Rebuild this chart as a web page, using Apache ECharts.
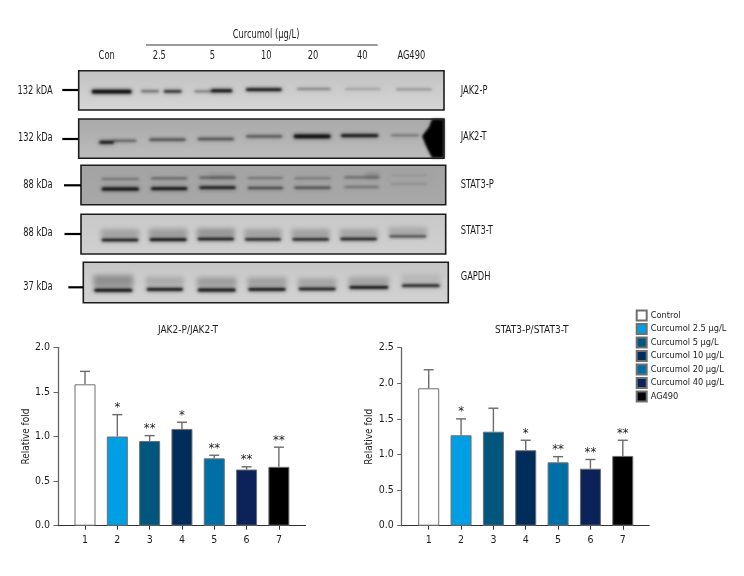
<!DOCTYPE html>
<html><head><meta charset="utf-8">
<style>html,body{margin:0;padding:0;background:#fff}#c{width:744px;height:576px}</style>
<script src="https://cdn.jsdelivr.net/npm/echarts@6/dist/echarts.min.js"></script>
</head><body><div id="c"></div>
<script>
const categories = [1, 2, 3, 4, 5, 6, 7];
const treatments = ['Control', 'Curcumol 2.5 μg/L', 'Curcumol 5 μg/L', 'Curcumol 10 μg/L', 'Curcumol 20 μg/L', 'Curcumol 40 μg/L', 'AG490'];
const jakValues = [1.585, 1.0, 0.95, 1.085, 0.755, 0.63, 0.66];
const jakUpper = [1.73, 1.245, 1.01, 1.16, 0.79, 0.66, 0.88];
const jakStars = ['', '*', '**', '*', '**', '**', '**'];
const statValues = [1.93, 1.27, 1.32, 1.06, 0.89, 0.80, 0.98];
const statUpper = [2.19, 1.50, 1.65, 1.20, 0.97, 0.93, 1.20];
const statStars = ['', '*', '', '*', '**', '**', '**'];
const laneLabels = ['Con', '2.5', '5', '10', '20', '40', 'AG490'];
const blotNames = ['JAK2-P', 'JAK2-T', 'STAT3-P', 'STAT3-T', 'GAPDH'];
const sizeLabels = ['132 kDA', '132 kDa', '88 kDa', '88 kDa', '37 kDa'];

const barColors = ['#ffffff', '#009fe3', '#00567c', '#002d5a', '#006fa6', '#0b2358', '#000000'];
const FONT = '"DejaVu Sans Condensed","DejaVu Sans",sans-serif';
const INK = '#1c1c1c';

/* ---------- western-blot picture, drawn as decoration ---------- */
const panels = [
  {x:78.7,y:70.7,w:365.3,h:39.3,top:'#c2c2c2',bot:'#d6d6d6'},
  {x:78.7,y:119,w:365.3,h:39.3,top:'#a9a9a9',bot:'#bcbcbc'},
  {x:81,y:165.3,w:364.7,h:39.4,top:'#a3a3a3',bot:'#a8a8a8'},
  {x:81,y:214.3,w:364.7,h:39.7,top:'#c8c8c8',bot:'#d0d0d0'},
  {x:83.3,y:262.3,w:365,h:40.4,top:'#c6c6c6',bot:'#d3d3d3'}
];
// band table: panel, x0, x1, y, thickness, darkness (reference zoom was 3x, hence the /3 below)
const bandRows = [
  [0,272,398,215,11,1],[0,420,480,214,6,.5],[0,488,548,214,8,.75],[0,580,640,214,5,.45],[0,630,700,212,9,1],[0,735,848,209,8,.95],
  [0,888,995,207,5,.45],[0,1032,1145,207,4,.25],[0,1185,1298,208,5,.3],
  [1,295,345,367,9,.9],[1,335,412,362,6,.5],[1,445,560,359,7,.6],[1,590,705,357,7,.55],[1,735,850,349,7,.55],[1,878,995,349,11,1],[1,1020,1138,347,8,.95],[1,1170,1260,346,4,.5],
  [2,302,420,57,5,.4],[2,450,565,55,5,.45],[2,595,710,53,5,.5],[2,740,852,54,4,.38],[2,880,995,55,4,.4],[2,1030,1140,52,5,.4],[2,1170,1285,46,3,.14],
  [2,302,420,87,9,1],[2,450,565,86,8,.95],[2,595,710,83,8,.85],[2,740,852,84,6,.65],[2,880,995,83,6,.6],[2,1030,1140,81,5,.4],[2,1170,1285,72,4,.16],
  [3,302,418,240,8,1],[3,446,563,239,8,1],[3,590,705,237,8,1],[3,732,846,238,7,.95],[3,874,990,238,7,.95],[3,1018,1134,237,7,.9],[3,1165,1282,229,5,.8],
  [4,280,400,391,9,1],[4,437,552,388,8,1],[4,590,710,390,9,1],[4,742,860,388,8,1],[4,893,1010,387,7,.95],[4,1045,1168,382,8,1],[4,1203,1322,377,7,1]
];
// smear table: panel, x0, x1, y0, y1, darkness
const smearRows = [
  [2,625,705,44,56,.15],[2,1095,1140,38,54,.18],
  [3,302,418,208,232,.22],[3,446,563,206,232,.24],[3,590,705,205,230,.28],[3,732,846,207,231,.22],[3,874,990,207,231,.22],[3,1018,1134,207,230,.2],[3,1165,1282,202,224,.18],
  [4,280,400,345,382,.3],[4,437,552,350,378,.17],[4,590,710,352,380,.24],[4,742,860,352,380,.22],[4,893,1010,355,380,.2],[4,1045,1168,350,376,.2],[4,1203,1322,342,368,.1]
];

const FAR = 1500;  // shapes sit off-canvas; only their blurred shadow lands on the membrane
function softRect(x, y, w, h, alpha, blur, z) {
  return {type:'rect',silent:true,z:z,shape:{x:x-FAR,y:y,width:w,height:h,r:Math.min(h/2,2)},
    style:{fill:'#000',shadowColor:'rgba(5,5,5,'+alpha+')',shadowBlur:blur,shadowOffsetX:FAR}};
}
const graphics = [];
panels.forEach(p => {
  graphics.push({type:'rect',silent:true,z:1,shape:{x:p.x,y:p.y,width:p.w,height:p.h},
    style:{fill:{type:'linear',x:0,y:0,x2:0,y2:1,colorStops:[{offset:0,color:p.top},{offset:1,color:p.bot}]}}});
});
smearRows.forEach(r => {
  graphics.push(softRect(r[1]/3,r[3]/3+160,(r[2]-r[1])/3,(r[4]-r[3])/3,r[5],5,2));
});
bandRows.forEach(r => {
  const off = r[0] < 2 ? 20 : 160, h = r[4]/3, a = r[5];
  graphics.push(softRect(r[1]/3,off+r[3]/3-h/2-.5,(r[2]-r[1])/3,h+1,a*.35,5,3));
  graphics.push(softRect(r[1]/3+1,off+r[3]/3-h/2,(r[2]-r[1])/3-2,h,Math.min(1,a*1.05),2.6,3));
});
// dark corner of the JAK2-T membrane
graphics.push({type:'polygon',silent:true,z:4,shape:{points:[[444-FAR,119],[432-FAR,119],[429-FAR,127],[422-FAR,136],[426-FAR,146],[432-FAR,158],[444-FAR,158]]},
  style:{fill:'#000',shadowColor:'rgba(0,0,0,1)',shadowBlur:2.5,shadowOffsetX:FAR}});
panels.forEach(p => {
  graphics.push({type:'rect',silent:true,z:5,shape:{x:p.x,y:p.y,width:p.w,height:p.h},
    style:{fill:'none',stroke:'#1c1c1c',lineWidth:1.6}});
});
// marker dashes beside the membranes
[[62.3,78,90],[62.3,78,139],[64,81,185.3],[64.5,81,234],[68.3,83,287.3]].forEach(m => {
  graphics.push({type:'line',silent:true,z:5,shape:{x1:m[0],y1:m[2],x2:m[1],y2:m[2]},style:{stroke:'#000',lineWidth:2.2}});
});
graphics.push({type:'line',silent:true,z:5,shape:{x1:146,y1:45,x2:377.7,y2:45},style:{stroke:'#222',lineWidth:.9}});
function txt(s, x, y, align) {
  graphics.push({type:'text',silent:true,z:6,x:x,y:y,scaleX:.77,style:{text:s,fill:INK,font:'12px '+FONT,textAlign:align||'center',textVerticalAlign:'middle'}});
}
txt('Curcumol (μg/L)',266,35);
[106.7,159.3,212.3,266.3,313,362.3,411.3].forEach((x,i)=>txt(laneLabels[i],x,56));
[91,138,185,232.7,286.7].forEach((y,i)=>txt(sizeLabels[i],52.7,y,'right'));
[91,137,185,231,277].forEach((y,i)=>txt(blotNames[i],460.7,y,'left'));

/* ---------- bar charts ---------- */
const charts = [
  {left:58,width:247.7,top:347.3,height:178.4,xMin:0.164,xMax:7.83,yMax:2,vals:jakValues,upper:jakUpper,stars:jakStars},
  {left:401.7,width:247.6,top:347.7,height:178,xMin:0.165,xMax:7.82,yMax:2.5,vals:statValues,upper:statUpper,stars:statStars}
];
const axisGrey = '#666';
const series = [];
charts.forEach((c,ci) => {
  treatments.forEach((name,i) => {
    series.push({type:'bar',name,xAxisIndex:ci,yAxisIndex:ci,barWidth:21,barGap:'-100%',animation:false,silent:true,
      data:[[categories[i],c.vals[i]]],
      itemStyle:{color:barColors[i],borderColor:'#6f6f6f',borderWidth:1}});
  });
  series.push({type:'custom',xAxisIndex:ci,yAxisIndex:ci,animation:false,silent:true,clip:false,z:4,
    data:categories.map((x,i)=>[x,c.vals[i],c.upper[i],i]),
    encode:{x:0,y:2},
    renderItem(params,api){
      const x=api.value(0), low=api.coord([x,api.value(1)]), up=api.coord([x,api.value(2)]);
      const st=c.stars[api.value(3)];
      const line={stroke:'#6a6a6a',lineWidth:1.4};
      const kids=[
        {type:'line',shape:{x1:low[0],y1:low[1],x2:up[0],y2:up[1]},style:line},
        {type:'line',shape:{x1:up[0]-5,y1:up[1],x2:up[0]+5,y2:up[1]},style:line}];
      if(st) kids.push({type:'text',x:up[0],y:up[1]-7,style:{text:st,fill:INK,font:'13px '+FONT,textAlign:'center',textVerticalAlign:'middle'}});
      return {type:'group',children:kids};
    }});
});

const option = {
  backgroundColor:'#fff',
  animation:false,
  textStyle:{fontFamily:FONT},
  title:[
    {text:'JAK2-P/JAK2-T',left:183,top:320,textAlign:'center',textStyle:{fontSize:10,fontWeight:'normal',color:INK,fontFamily:FONT}},
    {text:'STAT3-P/STAT3-T',left:526.7,top:320,textAlign:'center',textStyle:{fontSize:10,fontWeight:'normal',color:INK,fontFamily:FONT}}
  ],
  legend:{orient:'vertical',left:635.7,top:309.6,itemWidth:10,itemHeight:10,itemGap:1.5,padding:0,
    data:treatments.map(n=>({name:n,icon:'rect'})),selectedMode:false,
    textStyle:{fontSize:9.2,lineHeight:10,color:INK,fontFamily:FONT,padding:[0,0,0,-1]}},
  grid:charts.map(c=>({left:c.left,width:c.width,top:c.top,height:c.height,containLabel:false})),
  xAxis:charts.map((c,i)=>({type:'value',gridIndex:i,min:c.xMin,max:c.xMax,splitLine:{show:false},
    axisLine:{show:true,onZero:false,lineStyle:{color:'#333',width:1}},
    axisTick:{show:true,length:4,customValues:categories,lineStyle:{color:'#333',width:1}},
    axisLabel:{show:true,customValues:categories,color:INK,fontSize:10.5,margin:9,fontFamily:FONT,formatter:v=>String(v)}})),
  yAxis:charts.map((c,i)=>({type:'value',gridIndex:i,min:0,max:c.yMax,interval:0.5,splitLine:{show:false},
    name:'Relative fold',nameLocation:'middle',nameGap:26,nameRotate:90,
    nameTextStyle:{color:INK,fontSize:10,fontFamily:FONT},
    axisLine:{show:true,onZero:false,lineStyle:{color:axisGrey,width:1.3}},
    axisTick:{show:true,length:4.5,lineStyle:{color:axisGrey,width:1}},
    axisLabel:{show:true,color:INK,fontSize:10.5,margin:8,fontFamily:FONT,formatter:v=>v.toFixed(1)}})),
  series,
  graphic:{elements:graphics}
};
const chart = echarts.init(document.getElementById('c'),null,{renderer:'canvas'});
chart.setOption(option);
</script></body></html>
